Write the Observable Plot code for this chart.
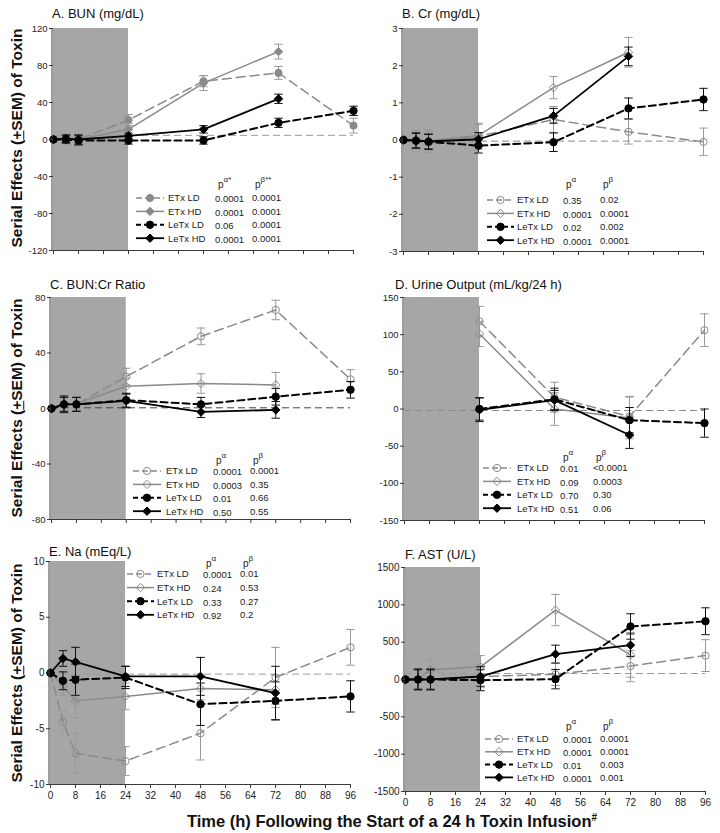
<!DOCTYPE html>
<html>
<head>
<meta charset="utf-8">
<script src="https://cdn.jsdelivr.net/npm/d3@7"></script>
<script src="https://cdn.jsdelivr.net/npm/@observablehq/plot@0.6"></script>
<style>
  body { margin: 0; background: #fff; font-family: Arial, "Liberation Sans", sans-serif; }
  #root { position: relative; width: 720px; height: 833px; overflow: hidden; background: #fff; }
  .panel { position: absolute; }
  .ptitle { position: absolute; font-size: 13px; color: #111; white-space: nowrap; line-height: 1; z-index: 5; }
  .ytitle { position: absolute; font-weight: bold; font-size: 15.5px; color: #111; white-space: nowrap; line-height: 1;
            transform: translate(-50%, -50%) rotate(-90deg); z-index: 5; }
  .xtitle { position: absolute; font-weight: bold; font-size: 16.5px; color: #111; white-space: nowrap; line-height: 1;
            transform: translate(-50%, -50%); z-index: 5; }
  .xtitle sup { font-size: 10px; }
</style>
</head>
<body>
<div id="root"></div>
<script>
// ---------------- DATA ----------------
const HOURS = [0, 4, 8, 24, 48, 72, 96];
const X_TICKS = [0, 8, 16, 24, 32, 40, 48, 56, 64, 72, 80, 88, 96];
const INFUSION = [[0, 24]];
const SERIES_NAMES = ["ETx LD", "ETx HD", "LeTx LD", "LeTx HD"];

// A. BUN (mg/dL)
const BUN_TITLE = "A. BUN (mg/dL)";
const BUN_Y_TICKS = [-120, -80, -40, 0, 40, 80, 120];
const BUN_BASELINE = 4.5;
const BUN_ETX_LD = [0, 0, 0, 21, 63, 72, 15];
const BUN_ETX_LD_SEM = [0, 5, 5, 6, 6, 7, 8];
const BUN_ETX_HD = [0, 0, 0, 11, 61, 95, null];
const BUN_ETX_HD_SEM = [0, 5, 5, 6, 8, 8, null];
const BUN_LETX_LD = [0, 0, -1, -1, -1, 18, 31];
const BUN_LETX_LD_SEM = [0, 4, 5, 4, 4, 5, 5];
const BUN_LETX_HD = [0, 1, 0, 4, 11, 44, null];
const BUN_LETX_HD_SEM = [0, 4, 5, 3, 4, 5, null];
const BUN_P_ALPHA = ["0.0001", "0.0001", "0.06", "0.0001"];
const BUN_P_BETA = ["0.0001", "0.0001", "0.0001", "0.0001"];

// B. Cr (mg/dL)
const CR_TITLE = "B. Cr (mg/dL)";
const CR_Y_TICKS = [-3, -2, -1, 0, 1, 2, 3];
const CR_BASELINE = -0.03;
const CR_ETX_LD = [0, 0, -0.03, 0.1, 0.55, 0.22, -0.05];
const CR_ETX_LD_SEM = [0, 0.25, 0.3, 0.35, 0.35, 0.33, 0.37];
const CR_ETX_HD = [0, 0, -0.02, 0.12, 1.41, 2.36, null];
const CR_ETX_HD_SEM = [0, 0.25, 0.25, 0.3, 0.3, 0.4, null];
const CR_LETX_LD = [0, -0.02, -0.05, -0.15, -0.06, 0.85, 1.09];
const CR_LETX_LD_SEM = [0, 0.2, 0.2, 0.2, 0.25, 0.28, 0.3];
const CR_LETX_HD = [0, -0.01, -0.04, 0.02, 0.65, 2.25, null];
const CR_LETX_HD_SEM = [0, 0.2, 0.2, 0.18, 0.2, 0.25, null];
const CR_P_ALPHA = ["0.35", "0.0001", "0.02", "0.0001"];
const CR_P_BETA = ["0.02", "0.0001", "0.002", "0.0001"];

// C. BUN:Cr Ratio
const RATIO_TITLE = "C. BUN:Cr Ratio";
const RATIO_Y_TICKS = [-80, -40, 0, 40, 80];
const RATIO_BASELINE = 0.5;
const RATIO_ETX_LD = [0, 3, 3, 23, 52, 71, 21];
const RATIO_ETX_LD_SEM = [0, 6, 5, 6, 6, 7, 7];
const RATIO_ETX_HD = [0, 3, 3.5, 16, 18, 17, null];
const RATIO_ETX_HD_SEM = [0, 5, 5, 6, 7, 9, null];
const RATIO_LETX_LD = [0, 3, 3, 6, 3, 8.5, 13.5];
const RATIO_LETX_LD_SEM = [0, 6, 5, 5, 5, 6, 6];
const RATIO_LETX_HD = [0, 3, 3, 5.5, -2.5, -1, null];
const RATIO_LETX_HD_SEM = [0, 5, 5, 5, 4, 6, null];
const RATIO_P_ALPHA = ["0.0001", "0.0003", "0.01", "0.50"];
const RATIO_P_BETA = ["0.0001", "0.35", "0.66", "0.55"];

// D. Urine Output (mL/kg/24 h)
const URINE_TITLE = "D. Urine Output (mL/kg/24 h)";
const URINE_Y_TICKS = [-150, -100, -50, 0, 50, 100, 150];
const URINE_BASELINE = -2;
const URINE_ETX_LD = [null, null, null, 118, 16, -10, 106];
const URINE_ETX_LD_SEM = [null, null, null, 20, 20, 27, 22];
const URINE_ETX_HD = [null, null, null, 101, 0, -12, null];
const URINE_ETX_HD_SEM = [null, null, null, 17, 22, 28, null];
const URINE_LETX_LD = [null, null, null, 0, 13, -15, -19];
const URINE_LETX_LD_SEM = [null, null, null, 15, 15, 17, 19];
const URINE_LETX_HD = [null, null, null, -1, 12, -35, null];
const URINE_LETX_HD_SEM = [null, null, null, 16, 13, 18, null];
const URINE_P_ALPHA = ["0.01", "0.09", "0.70", "0.51"];
const URINE_P_BETA = ["<0.0001", "0.0003", "0.30", "0.06"];

// E. Na (mEq/L)
const NA_TITLE = "E. Na (mEq/L)";
const NA_Y_TICKS = [-10, -5, 0, 5, 10];
const NA_BASELINE = -0.1;
const NA_ETX_LD = [0, -4.4, -7.2, -7.9, -5.4, -0.4, 2.3];
const NA_ETX_LD_SEM = [0, 1.0, 1.8, 1.3, 2.4, 2.7, 1.6];
const NA_ETX_HD = [0, -1.2, -2.5, -2.1, -1.4, -1.5, null];
const NA_ETX_HD_SEM = [0, 0.8, 1.5, 1.2, 1.0, 1.3, null];
const NA_LETX_LD = [0, -0.7, -0.6, -0.4, -2.8, -2.5, -2.1];
const NA_LETX_LD_SEM = [0, 0.8, 1.4, 1.0, 1.9, 1.7, 1.4];
const NA_LETX_HD = [0, 1.3, 1.0, -0.3, -0.3, -1.8, null];
const NA_LETX_HD_SEM = [0, 0.7, 1.3, 0.9, 1.7, 2.4, null];
const NA_P_ALPHA = ["0.0001", "0.24", "0.33", "0.92"];
const NA_P_BETA = ["0.01", "0.53", "0.27", "0.2"];

// F. AST (U/L)
const AST_TITLE = "F. AST (U/L)";
const AST_Y_TICKS = [-1500, -1000, -500, 0, 500, 1000, 1500];
const AST_BASELINE = 80;
const AST_ETX_LD = [0, 0, 0, 40, 70, 180, 320];
const AST_ETX_LD_SEM = [0, 130, 130, 150, 150, 210, 213];
const AST_ETX_HD = [0, 10, 130, 170, 930, 330, null];
const AST_ETX_HD_SEM = [0, 140, 140, 150, 210, 300, null];
const AST_LETX_LD = [0, 0, 0, -10, 5, 710, 780];
const AST_LETX_LD_SEM = [0, 140, 140, 140, 130, 170, 180];
const AST_LETX_HD = [0, 0, 0, 40, 340, 460, null];
const AST_LETX_HD_SEM = [0, 130, 130, 130, 120, 150, null];
const AST_P_ALPHA = ["0.0001", "0.0001", "0.01", "0.0001"];
const AST_P_BETA = ["0.0001", "0.0001", "0.003", "0.001"];

const Y_TITLE_HTML = 'Serial Effects (<u>+</u>SEM) of Toxin';
const X_TITLE_HTML = 'Time (h) Following the Start of a 24 h Toxin Infusion<sup>#</sup>';

// ---------------- STYLES / LAYOUT ----------------
const GRAY = "#8a8a8a";
const SHADE = "#a6a6a6";
const AXIS = "#3a3a3a";
const FONT = 'Arial, "Liberation Sans", sans-serif';
const STYLE = [
  {stroke: GRAY, dash: "9,5", width: 1.5, symbol: "circle", r: 3.6},
  {stroke: GRAY, dash: null, width: 1.5, symbol: "diamond2", r: 3.8},
  {stroke: "#000", dash: "7,4", width: 2, symbol: "circle", r: 3.7},
  {stroke: "#000", dash: null, width: 1.8, symbol: "diamond2", r: 3.8}
];
const capSymbol = {
  draw(ctx, size) { const r = Math.sqrt(size / Math.PI); ctx.moveTo(-r, 0); ctx.lineTo(r, 0); }
};

const PANELS = [
  {title: BUN_TITLE, yTicks: BUN_Y_TICKS, baseline: BUN_BASELINE, baseStroke: "#9a9a9a", etxFilled: true,
   means: [BUN_ETX_LD, BUN_ETX_HD, BUN_LETX_LD, BUN_LETX_HD], sems: [BUN_ETX_LD_SEM, BUN_ETX_HD_SEM, BUN_LETX_LD_SEM, BUN_LETX_HD_SEM],
   pA: BUN_P_ALPHA, pB: BUN_P_BETA, headA: "α*", headB: "β**",
   box: {left: 0, top: 0, width: 360, height: 270, mL: 53, mR: 7, mT: 28, mB: 20}, showX: false,
   titlePos: [52, 7],
   leg: {x0: 136, x1: 164, label: 168, pa: 215, pb: 252, y0: 198, dy: 13.4, head: 184}},
  {title: CR_TITLE, yTicks: CR_Y_TICKS, baseline: CR_BASELINE, baseStroke: "#8a8a8a", etxFilled: false,
   means: [CR_ETX_LD, CR_ETX_HD, CR_LETX_LD, CR_LETX_HD], sems: [CR_ETX_LD_SEM, CR_ETX_HD_SEM, CR_LETX_LD_SEM, CR_LETX_HD_SEM],
   pA: CR_P_ALPHA, pB: CR_P_BETA, headA: "α", headB: "β",
   box: {left: 360, top: 0, width: 360, height: 270, mL: 43, mR: 17, mT: 28, mB: 19}, showX: false,
   titlePos: [402, 7],
   leg: {x0: 487, x1: 514, label: 517, pa: 563, pb: 600, y0: 200, dy: 13.4, head: 184}},
  {title: RATIO_TITLE, yTicks: RATIO_Y_TICKS, baseline: RATIO_BASELINE, baseStroke: "#444", etxFilled: false,
   means: [RATIO_ETX_LD, RATIO_ETX_HD, RATIO_LETX_LD, RATIO_LETX_HD], sems: [RATIO_ETX_LD_SEM, RATIO_ETX_HD_SEM, RATIO_LETX_LD_SEM, RATIO_LETX_HD_SEM],
   pA: RATIO_P_ALPHA, pB: RATIO_P_BETA, headA: "α", headB: "β",
   box: {left: 0, top: 270, width: 360, height: 270, mL: 51, mR: 10, mT: 27, mB: 21}, showX: false,
   titlePos: [50, 278],
   leg: {x0: 133, x1: 161, label: 166, pa: 213, pb: 250, y0: 471, dy: 13.4, head: 460}},
  {title: URINE_TITLE, yTicks: URINE_Y_TICKS, baseline: URINE_BASELINE, baseStroke: "#8a8a8a", etxFilled: false,
   means: [URINE_ETX_LD, URINE_ETX_HD, URINE_LETX_LD, URINE_LETX_HD], sems: [URINE_ETX_LD_SEM, URINE_ETX_HD_SEM, URINE_LETX_LD_SEM, URINE_LETX_HD_SEM],
   pA: URINE_P_ALPHA, pB: URINE_P_BETA, headA: "α", headB: "β",
   box: {left: 360, top: 270, width: 360, height: 270, mL: 44, mR: 16, mT: 27, mB: 20}, showX: false,
   titlePos: [395, 278],
   leg: {x0: 483, x1: 511, label: 517, pa: 560, pb: 593, y0: 468, dy: 13.4, head: 457}},
  {title: NA_TITLE, yTicks: NA_Y_TICKS, baseline: NA_BASELINE, baseStroke: "#9a9a9a", etxFilled: false,
   means: [NA_ETX_LD, NA_ETX_HD, NA_LETX_LD, NA_LETX_HD], sems: [NA_ETX_LD_SEM, NA_ETX_HD_SEM, NA_LETX_LD_SEM, NA_LETX_HD_SEM],
   pA: NA_P_ALPHA, pB: NA_P_BETA, headA: "α", headB: "β",
   box: {left: 0, top: 540, width: 360, height: 270, mL: 50, mR: 10, mT: 21, mB: 26}, showX: true,
   titlePos: [49, 545],
   leg: {x0: 127, x1: 154, label: 157, pa: 203, pb: 240, y0: 574, dy: 13.6, head: 563}},
  {title: AST_TITLE, yTicks: AST_Y_TICKS, baseline: AST_BASELINE, baseStroke: "#9a9a9a", etxFilled: false,
   means: [AST_ETX_LD, AST_ETX_HD, AST_LETX_LD, AST_LETX_HD], sems: [AST_ETX_LD_SEM, AST_ETX_HD_SEM, AST_LETX_LD_SEM, AST_LETX_HD_SEM],
   pA: AST_P_ALPHA, pB: AST_P_BETA, headA: "α", headB: "β",
   box: {left: 360, top: 540, width: 360, height: 275, mL: 45, mR: 15, mT: 27, mB: 24}, showX: true,
   titlePos: [405, 548],
   leg: {x0: 485, x1: 513, label: 517, pa: 563, pb: 600, y0: 739, dy: 12.8, head: 726}}
];

const Y_TITLE_POS = [[17, 138], [17, 408], [17, 673]];
const X_TITLE_POS = [392, 821];

// ---------------- DRAW ----------------
const root = document.getElementById("root");

function fillFor(p, i) {
  if (i >= 2) return "#000";
  return p.etxFilled ? GRAY : "none";
}

function makePlot(p) {
  const ymin = p.yTicks[0], ymax = p.yTicks[p.yTicks.length - 1];
  const marks = [
    Plot.rect(INFUSION, {x1: d => d[0], x2: d => d[1], y1: () => ymin, y2: () => ymax, fill: SHADE}),
    Plot.ruleY([p.baseline], {stroke: p.baseStroke, strokeWidth: 1, strokeDasharray: "7,4"})
  ];
  p.means.forEach((m, i) => {
    const st = STYLE[i];
    const rows = [];
    HOURS.forEach((t, k) => {
      if (m[k] == null) return;
      const s = p.sems[i][k] || 0;
      rows.push({series: SERIES_NAMES[i], t, m: m[k], s, lo: m[k] - s, hi: m[k] + s});
    });
    const withErr = rows.filter(d => d.s > 0);
    const errStroke = i < 2 ? "#999" : "#111";
    marks.push(
      Plot.ruleX(withErr, {x: "t", y1: "lo", y2: "hi", stroke: errStroke, strokeWidth: 1}),
      Plot.dot(withErr, {x: "t", y: "lo", symbol: capSymbol, r: 4.2, fill: "none", stroke: errStroke, strokeWidth: 1}),
      Plot.dot(withErr, {x: "t", y: "hi", symbol: capSymbol, r: 4.2, fill: "none", stroke: errStroke, strokeWidth: 1}),
      Plot.line(rows, {x: "t", y: "m", stroke: st.stroke, strokeWidth: st.width, strokeDasharray: st.dash || undefined}),
      Plot.dot(rows, {x: "t", y: "m", symbol: st.symbol, r: st.r, fill: fillFor(p, i), stroke: st.stroke, strokeWidth: 1})
    );
  });
  marks.push(
    Plot.ruleX([0], {stroke: AXIS, strokeWidth: 1, dx: -1.5}),
    Plot.ruleY([ymin], {stroke: AXIS, strokeWidth: 1}),
    Plot.axisY({ticks: p.yTicks, tickSize: 4, tickPadding: 2, label: null, stroke: AXIS, fill: "#222",
                fontSize: p.showX ? 10 : 9.5, tickFormat: d => String(d)}),
    Plot.axisX({ticks: X_TICKS, tickSize: 4, tickPadding: 3, label: null, stroke: AXIS, fill: "#222",
                fontSize: 10, tickFormat: p.showX ? (d => String(d)) : (() => "")})
  );
  const b = p.box;
  return Plot.plot({
    width: b.width, height: b.height,
    marginLeft: b.mL, marginRight: b.mR, marginTop: b.mT, marginBottom: b.mB,
    x: {domain: [0, 96]},
    y: {domain: [ymin, ymax]},
    style: {fontFamily: FONT, fontSize: "9.5px", background: "transparent", overflow: "visible", color: "#222"},
    marks
  });
}

PANELS.forEach(p => {
  const div = document.createElement("div");
  div.className = "panel";
  div.style.left = p.box.left + "px";
  div.style.top = p.box.top + "px";
  div.appendChild(makePlot(p));
  root.appendChild(div);
  const t = document.createElement("div");
  t.className = "ptitle";
  t.textContent = p.title;
  t.style.left = p.titlePos[0] + "px";
  t.style.top = p.titlePos[1] + "px";
  root.appendChild(t);
});

Y_TITLE_POS.forEach(([x, y]) => {
  const d = document.createElement("div");
  d.className = "ytitle";
  d.innerHTML = Y_TITLE_HTML;
  d.style.left = x + "px";
  d.style.top = y + "px";
  root.appendChild(d);
});
{
  const d = document.createElement("div");
  d.className = "xtitle";
  d.innerHTML = X_TITLE_HTML;
  d.style.left = X_TITLE_POS[0] + "px";
  d.style.top = X_TITLE_POS[1] + "px";
  root.appendChild(d);
}

// Legends (overlay)
const ov = d3.select(root).append("svg")
  .attr("width", 720).attr("height", 833)
  .style("position", "absolute").style("left", 0).style("top", 0)
  .style("pointer-events", "none").style("z-index", 4)
  .attr("font-family", FONT);

PANELS.forEach(p => {
  const L = p.leg;
  const g = ov.append("g");
  [[L.pa, p.headA], [L.pb, p.headB]].forEach(([x, sup]) => {
    const t = g.append("text").attr("x", x + 3).attr("y", L.head + 4).attr("font-size", 10).attr("fill", "#222");
    t.append("tspan").text("p");
    t.append("tspan").attr("dy", -6).attr("font-size", 8).text(sup);
  });
  SERIES_NAMES.forEach((name, i) => {
    const st = STYLE[i];
    const y = L.y0 + i * L.dy;
    g.append("line").attr("x1", L.x0).attr("x2", L.x1).attr("y1", y).attr("y2", y)
      .attr("stroke", st.stroke).attr("stroke-width", st.width)
      .attr("stroke-dasharray", st.dash ? (i === 0 ? "6,3" : "5,3") : null);
    const sym = st.symbol === "circle" ? d3.symbolCircle : d3.symbolDiamond2;
    g.append("path")
      .attr("d", d3.symbol(sym, Math.PI * st.r * st.r)())
      .attr("transform", `translate(${(L.x0 + L.x1) / 2},${y})`)
      .attr("fill", fillFor(p, i)).attr("stroke", st.stroke).attr("stroke-width", 1);
    g.append("text").attr("x", L.label).attr("y", y).attr("dy", "0.35em").attr("font-size", 9.5).attr("fill", "#222").text(name);
    g.append("text").attr("x", L.pa).attr("y", y + 1).attr("dy", "0.35em").attr("font-size", 9.5).attr("fill", "#222").text(p.pA[i]);
    g.append("text").attr("x", L.pb).attr("y", y).attr("dy", "0.35em").attr("font-size", 9.5).attr("fill", "#222").text(p.pB[i]);
  });
});
</script>
</body>
</html>
